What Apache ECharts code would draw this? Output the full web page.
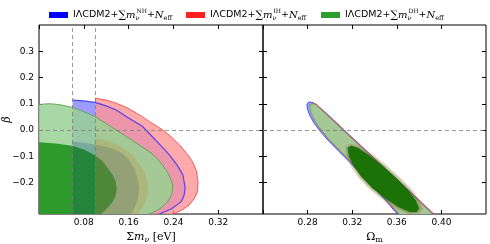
<!DOCTYPE html>
<html><head><meta charset="utf-8">
<script src="https://cdn.jsdelivr.net/npm/echarts@6/dist/echarts.min.js"></script>
<style>html,body{margin:0;padding:0;background:#fff}#c{width:490px;height:244px}</style>
</head><body><div id="c"></div>
<script>
// ---------- axis ranges & ticks ----------
const massRange = [0, 0.4];
const betaRange = [-0.32, 0.4];
const omRange = [0.24, 0.44];
const massTicks = [0.08, 0.16, 0.24, 0.32];
const massTickMarks = [0, 0.08, 0.16, 0.24, 0.32, 0.4];
const betaTicks = [-0.2, -0.1, 0.0, 0.1, 0.2, 0.3];
const omTicks = [0.28, 0.32, 0.36, 0.40];
const massBounds = [0.06, 0.1];   // vertical dashed lines
const betaRef = 0.0;              // horizontal dashed line

// ---------- legend ----------
const seriesNames = ['NH', 'IH', 'DH'];
const seriesColors = ['#0000ff', '#ff2020', '#2ca02c'];

// ---------- left panel contours (sum m_nu, beta) ----------
const nhOuter = [[0.06,0.114],[0.08,0.111],[0.10,0.105],[0.12,0.092],[0.138,0.076],[0.16,0.046],[0.185,0.013],[0.20,-0.02],[0.215,-0.054],[0.233,-0.095],[0.247,-0.135],[0.257,-0.171],[0.261,-0.22],[0.259,-0.25],[0.254,-0.273],[0.237,-0.30],[0.215,-0.32],[0.208,-0.33]];
const ihOuter = [[0.1,0.121],[0.12,0.114],[0.138,0.102],[0.16,0.082],[0.185,0.05],[0.197,0.032],[0.221,0.0],[0.237,-0.028],[0.251,-0.057],[0.264,-0.09],[0.274,-0.12],[0.281,-0.155],[0.284,-0.197],[0.283,-0.235],[0.277,-0.262],[0.268,-0.286],[0.255,-0.305],[0.239,-0.32],[0.23,-0.33]];
const dhOuter = [[0,0.097],[0.01,0.099],[0.02,0.1],[0.035,0.097],[0.06,0.086],[0.08,0.07],[0.103,0.048],[0.12,0.024],[0.14,-0.003],[0.156,-0.025],[0.18,-0.059],[0.2,-0.087],[0.215,-0.118],[0.228,-0.155],[0.236,-0.19],[0.239,-0.216],[0.237,-0.245],[0.23,-0.272],[0.218,-0.297],[0.202,-0.316],[0.194,-0.322],[0.185,-0.33]];
const dhInner = [[0,-0.047],[0.03,-0.051],[0.059,-0.06],[0.08,-0.074],[0.099,-0.095],[0.113,-0.118],[0.123,-0.146],[0.132,-0.172],[0.137,-0.197],[0.139,-0.225],[0.137,-0.25],[0.131,-0.275],[0.122,-0.298],[0.113,-0.315],[0.105,-0.33]];
const nhInner = [[0.06,-0.045],[0.08,-0.049],[0.1,-0.055],[0.12,-0.064],[0.135,-0.074],[0.148,-0.088],[0.16,-0.112],[0.17,-0.146],[0.176,-0.185],[0.179,-0.222],[0.177,-0.26],[0.171,-0.295],[0.164,-0.32],[0.16,-0.33]];
const ihInner = [[0.1,-0.03],[0.12,-0.04],[0.14,-0.056],[0.16,-0.082],[0.176,-0.118],[0.188,-0.16],[0.194,-0.2],[0.195,-0.235],[0.19,-0.27],[0.182,-0.302],[0.175,-0.33]];

// ---------- right panel contours (Omega_m, beta) ----------
const omBlueOuter = [[0.2795,0.100],[0.2812,0.107],[0.2850,0.104],[0.2925,0.080],[0.3010,0.047],[0.3110,0.007],[0.3210,-0.033],[0.3410,-0.112],[0.3610,-0.191],[0.3810,-0.271],[0.3930,-0.320],[0.3970,-0.345],[0.3900,-0.362],[0.3750,-0.362],[0.3605,-0.320],[0.3485,-0.262],[0.3385,-0.215],[0.3285,-0.170],[0.3185,-0.126],[0.3085,-0.083],[0.2985,-0.040],[0.2915,-0.006],[0.2860,0.025],[0.2820,0.055],[0.2797,0.082]];
const omRedOuter = [[0.2835,0.097],[0.2850,0.101],[0.2875,0.099],[0.2930,0.077],[0.3010,0.045],[0.3110,0.005],[0.3210,-0.035],[0.3410,-0.114],[0.3610,-0.193],[0.3810,-0.273],[0.3928,-0.320],[0.3960,-0.345],[0.3900,-0.360],[0.3750,-0.360],[0.3615,-0.320],[0.3498,-0.262],[0.3398,-0.215],[0.3298,-0.170],[0.3198,-0.126],[0.3098,-0.083],[0.2998,-0.040],[0.2930,-0.006],[0.2878,0.025],[0.2845,0.055],[0.2832,0.082]];
const omGreenOuter = [[0.2818,0.095],[0.2838,0.100],[0.2868,0.098],[0.2922,0.077],[0.3000,0.046],[0.3100,0.006],[0.3200,-0.034],[0.3400,-0.113],[0.3600,-0.192],[0.3800,-0.272],[0.3918,-0.320],[0.3950,-0.345],[0.3890,-0.360],[0.3750,-0.360],[0.3620,-0.320],[0.3500,-0.262],[0.3400,-0.215],[0.3300,-0.170],[0.3200,-0.126],[0.3100,-0.083],[0.3000,-0.040],[0.2932,-0.006],[0.2878,0.025],[0.2840,0.055],[0.2820,0.080]];
const omRedInner = [[0.3135,-0.062],[0.3180,-0.052],[0.3260,-0.058],[0.3380,-0.090],[0.3500,-0.130],[0.3630,-0.180],[0.3735,-0.225],[0.3810,-0.268],[0.3840,-0.300],[0.3810,-0.318],[0.3700,-0.320],[0.3590,-0.300],[0.3470,-0.266],[0.3350,-0.225],[0.3250,-0.180],[0.3180,-0.135],[0.3140,-0.095]];
const omBlueInner = [[0.3145,-0.064],[0.3185,-0.055],[0.3255,-0.062],[0.3370,-0.092],[0.3490,-0.132],[0.3620,-0.182],[0.3722,-0.226],[0.3795,-0.268],[0.3825,-0.300],[0.3800,-0.316],[0.3705,-0.318],[0.3600,-0.298],[0.3480,-0.264],[0.3360,-0.224],[0.3262,-0.180],[0.3192,-0.135],[0.3150,-0.097]];
const omGreenInner = [[0.3160,-0.068],[0.3190,-0.060],[0.3250,-0.068],[0.3350,-0.095],[0.3470,-0.135],[0.3600,-0.185],[0.3700,-0.228],[0.3770,-0.268],[0.3800,-0.298],[0.3780,-0.312],[0.3720,-0.313],[0.3620,-0.295],[0.3500,-0.262],[0.3380,-0.222],[0.3280,-0.178],[0.3210,-0.135],[0.3170,-0.100]];

// ---------- styles ----------
const ST = {
  blueOuter: {fill:'rgba(0,0,255,0.39)'},
  redOuter: {fill:'rgba(255,149,149,0.8)'},
  greenOuter: {fill:'rgba(153,209,148,0.85)'},
  greenInner: {fill:'rgba(38,152,38,0.95)'},
  blueInner: {fill:'rgba(0,50,120,0.2)'},
  redInner: {fill:'rgba(190,140,50,0.28)'},
  redEdge: {stroke:'rgba(255,70,70,0.9)', lineWidth:1, fill:'none'},
  blueEdge: {stroke:'rgba(50,40,255,0.8)', lineWidth:1.2, fill:'none'},
  greenEdge: {stroke:'#5fa855', lineWidth:1, fill:'none'}
};

function closeAtBound(curve) {
  return [[curve[0][0], curve[curve.length-1][1]]].concat(curve);
}
function shape(name, pts, style, closed, ax) {
  return {
    type:'custom', name:name, xAxisIndex:ax*2, yAxisIndex:ax*2, data:pts, encode:{x:0,y:1},
    clip:true, silent:true,
    renderItem: function(params, api){
      if (params.dataIndex !== 0) return null;
      const points = pts.map(p => api.coord(p));
      return {type: closed ? 'polygon' : 'polyline', shape:{points:points}, style:Object.assign({}, style)};
    }
  };
}
const dashStyle = {type:[4,3], color:'rgba(120,120,120,0.75)', width:1};

const series = [
  shape('NH', closeAtBound(nhOuter), ST.blueOuter, true, 0),
  shape('IH', closeAtBound(ihOuter), ST.redOuter, true, 0),
  shape('IH', ihOuter, ST.redEdge, false, 0),
  shape('NH', nhOuter, ST.blueEdge, false, 0),
  shape('DH', closeAtBound(dhOuter), ST.greenOuter, true, 0),
  shape('DH', dhOuter, ST.greenEdge, false, 0),
  shape('DH', closeAtBound(dhInner), ST.greenInner, true, 0),
  shape('NH', closeAtBound(nhInner), ST.blueInner, true, 0),
  shape('IH', closeAtBound(ihInner), ST.redInner, true, 0),
  shape('NH', omBlueOuter, Object.assign({}, ST.blueOuter, {stroke:'rgba(60,60,255,0.9)', lineWidth:1}), true, 1),
  shape('IH', omRedOuter, Object.assign({}, ST.redOuter, {stroke:'rgba(255,40,80,0.9)', lineWidth:1}), true, 1),
  shape('DH', omGreenOuter, Object.assign({}, ST.greenOuter, {stroke:'#5fa855', lineWidth:0.8}), true, 1),
  shape('NH', omBlueInner, ST.blueInner, true, 1),
  shape('IH', omRedInner, ST.redInner, true, 1),
  shape('DH', omGreenInner, {fill:'rgba(20,112,0,0.95)'}, true, 1)
];
series[8].markLine = {silent:true, symbol:'none', label:{show:false}, lineStyle:dashStyle,
  data: massBounds.map(v => ({xAxis:v})).concat([{yAxis:betaRef}])};
series[14].markLine = {silent:true, symbol:'none', label:{show:false}, lineStyle:dashStyle,
  data: [{yAxis:betaRef}]};

const fmtMinus = v => String(v).replace('-', '\u2212');
const tickStyle = {inside:true, length:4, lineStyle:{color:'#000', width:1}};
const labelBase = {color:'#000', fontFamily:'DejaVu Sans', fontSize:9};
const nameRich = {
  s:{fontFamily:'DejaVu Serif', fontSize:11, color:'#000', lineHeight:14, verticalAlign:'middle'},
  i:{fontFamily:'DejaVu Serif', fontStyle:'italic', fontSize:11, color:'#000', lineHeight:14, verticalAlign:'middle'},
  b:{fontFamily:'DejaVu Serif', fontStyle:'italic', fontSize:8, color:'#000', lineHeight:8, verticalAlign:'bottom'},
  r:{fontFamily:'DejaVu Serif', fontSize:8, color:'#000', lineHeight:8, verticalAlign:'bottom'}
};

function xAx(grid, range, ticks, marks, name, decimals) {
  return [{
    gridIndex:grid, type:'value', min:range[0], max:range[1], position:'bottom',
    axisLine:{show:false, onZero:false}, splitLine:{show:false},
    axisTick:Object.assign({customValues:marks}, tickStyle),
    axisLabel:Object.assign({customValues:ticks, margin:4, formatter:v=>v.toFixed(decimals)}, labelBase),
    name:name, nameLocation:'middle', nameGap:16, nameMoveOverlap:false,
    nameTextStyle:{rich:nameRich}
  },{
    gridIndex:grid, type:'value', min:range[0], max:range[1], position:'top',
    axisLine:{show:false, onZero:false}, splitLine:{show:false}, axisLabel:{show:false},
    axisTick:Object.assign({customValues:marks}, tickStyle)
  }];
}
function yAx(grid, showLabels, name) {
  return [{
    gridIndex:grid, type:'value', min:betaRange[0], max:betaRange[1], position:'left',
    axisLine:{show:false, onZero:false}, splitLine:{show:false},
    axisTick:Object.assign({customValues:betaTicks}, tickStyle),
    axisLabel:Object.assign({show:showLabels, customValues:betaTicks, margin:5, formatter:v=>fmtMinus(v.toFixed(1))}, labelBase),
    name:name, nameLocation:'middle', nameGap:26, nameRotate:90, nameMoveOverlap:false,
    nameTextStyle:{fontFamily:'DejaVu Serif', fontStyle:'italic', fontSize:11, color:'#000'}
  },{
    gridIndex:grid, type:'value', min:betaRange[0], max:betaRange[1], position:'right',
    axisLine:{show:false, onZero:false}, splitLine:{show:false}, axisLabel:{show:false},
    axisTick:Object.assign({customValues:betaTicks}, tickStyle)
  }];
}

const legRich = {
  t:{fontFamily:'DejaVu Sans', fontSize:9.5, color:'#000', lineHeight:14, verticalAlign:'middle'},
  g:{fontFamily:'DejaVu Serif', fontSize:10.5, color:'#000', lineHeight:14, verticalAlign:'middle'},
  i:{fontFamily:'DejaVu Serif', fontStyle:'italic', fontSize:10, color:'#000', lineHeight:14, verticalAlign:'middle'},
  nu:{fontFamily:'DejaVu Serif', fontStyle:'italic', fontSize:6.5, color:'#000', lineHeight:6, verticalAlign:'bottom', width:1},
  sup:{fontFamily:'DejaVu Serif', fontSize:6, color:'#000', lineHeight:6, verticalAlign:'top'},
  sub:{fontFamily:'DejaVu Serif', fontSize:6.5, color:'#000', lineHeight:6, verticalAlign:'bottom'}
};
const legFmt = name => '{t|I\u039bCDM2+}{g|\u2211}{i|m}{nu|\u03bd}{sup|' + name + '}{t|+}{i|N}{sub|eff}';
const legendLefts = [49, 186, 321];
const legends = seriesNames.map((n, k) => ({
  data:[{name:n, itemStyle:{color:seriesColors[k]}}], left:legendLefts[k], top:8,
  icon:'rect', itemWidth:19, itemHeight:6, selectedMode:false, padding:0,
  formatter:legFmt, textStyle:{rich:legRich}
}));

const chart = echarts.init(document.getElementById('c'), null, {renderer:'canvas'});
chart.setOption({
  animation:false,
  backgroundColor:'#fff',
  legend:legends,
  grid:[
    {left:39, top:25, width:224, height:189, show:true, borderColor:'#000', borderWidth:1, backgroundColor:'transparent', outerBoundsMode:'none', containLabel:false},
    {left:263, top:25, width:223, height:189, show:true, borderColor:'#000', borderWidth:1, backgroundColor:'transparent', outerBoundsMode:'none', containLabel:false}
  ],
  xAxis: xAx(0, massRange, massTicks, massTickMarks, '{s|\u03a3}{i|m}{b|\u03bd}{s| [eV]}', 2)
    .concat(xAx(1, omRange, omTicks, omTicks, '{s|\u03a9}{r|m}', 2)),
  yAxis: yAx(0, true, '\u03b2').concat(yAx(1, false, '')),
  series: series
});
</script></body></html>
